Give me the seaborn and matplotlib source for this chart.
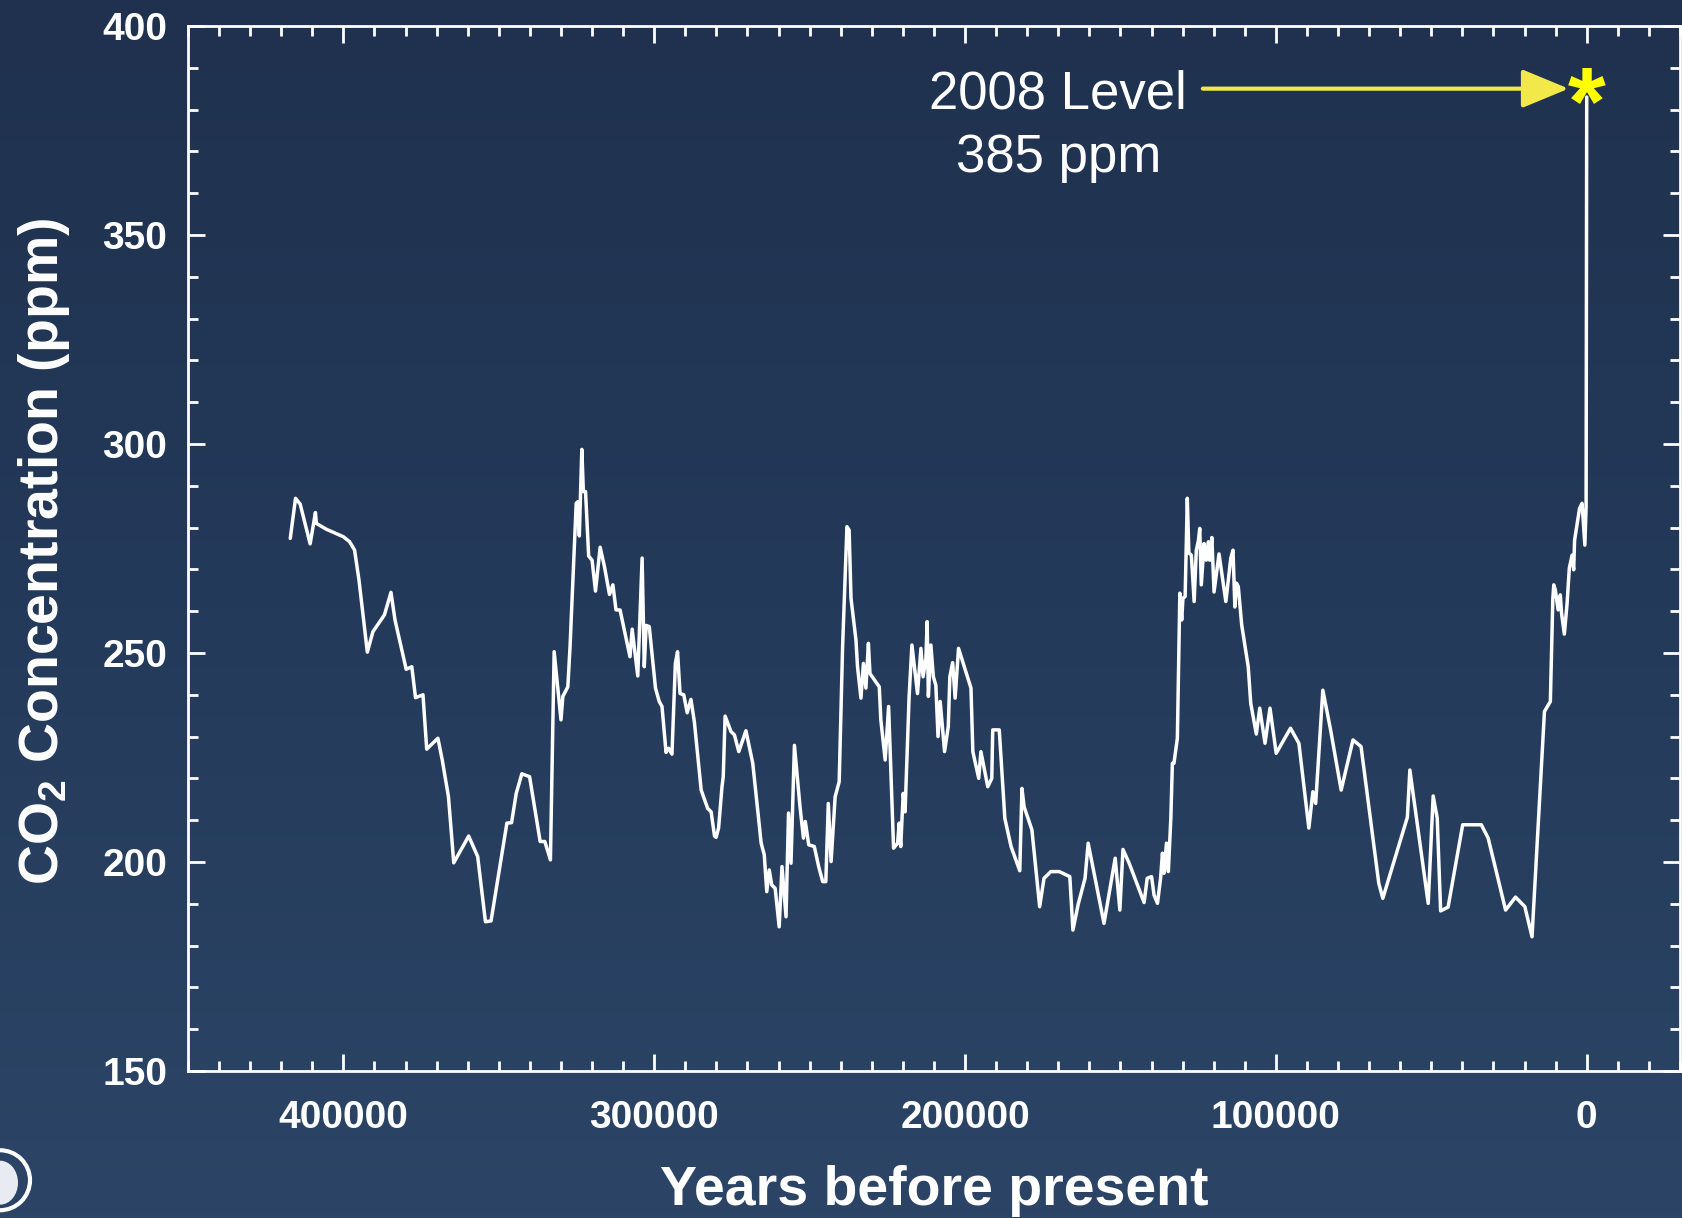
import numpy as np
import matplotlib
matplotlib.use('Agg')
import matplotlib.pyplot as plt
import seaborn as sns
from matplotlib.ticker import MultipleLocator, FuncFormatter
from matplotlib.colors import LinearSegmentedColormap
from matplotlib.patches import Ellipse

# Vostok ice core CO2, years before present
years = [417100, 415400, 413900, 410700, 409000, 408700, 405500, 400000, 398000, 396400,
         395000, 392300, 390500, 386800, 384700, 383400, 379800, 378000, 376800, 374400,
         373200, 369600, 368200, 366200, 364500, 359700, 356800, 354300, 352500, 350000,
         347400, 345900, 344400, 342600, 340100, 336700, 335200, 333400, 332200, 330000,
         329400, 327800, 327100, 325100, 324600, 324100, 323300, 322800, 322100, 321100,
         320000, 318900, 317400, 316000, 314400, 313300, 312300, 311000, 307800, 307100,
         305300, 303900, 303200, 302600, 301600, 299600, 298400, 297500, 296200, 295400,
         294300, 293200, 292500, 291700, 290500, 289400, 288200, 287100, 284900, 282800,
         281700, 280600, 280100, 279300, 278200, 277800, 277200, 275300, 274200, 272800,
         270500, 268300, 265600, 264600, 263800, 263000, 262200, 261100, 259800, 258900,
         257600, 256800, 256000, 254900, 253100, 252000, 251400, 250300, 248500, 247100,
         245800, 244800, 244000, 243100, 241800, 240500, 239400, 238000, 237300, 236700,
         235100, 234600, 233500, 232700, 231900, 231100, 230600, 227600, 227100, 225700,
         224600, 223000, 221700, 221200, 220700, 219900, 219300, 218000, 217100, 215300,
         214200, 213500, 212600, 212200, 211800, 211000, 210200, 209400, 208700, 208000,
         206600, 205400, 204900, 204000, 203200, 202100, 198100, 197500, 195600, 194900,
         192700, 191400, 191100, 189000, 187200, 185200, 182400, 181700, 181000, 178500,
         176000, 174600, 172400, 169700, 166300, 165300, 163600, 161400, 160400, 155300,
         151700, 150200, 149200, 147200, 142400, 141400, 140000, 139200, 138100, 137100,
         136500, 136000, 135200, 134600, 133800, 133300, 132800, 131700, 130900, 130300,
         129900, 129200, 128500, 128000, 127200, 126300, 125600, 124900, 124500, 124000,
         123100, 122400, 121700, 121300, 120600, 119900, 118300, 116100, 114500, 113800,
         113200, 112700, 112100, 111000, 108900, 108100, 106300, 105200, 103500, 101900,
         99900, 95300, 92600, 89400, 88100, 87200, 84900, 82400, 79000, 75200,
         72600, 66900, 65600, 57700, 56900, 51000, 49400, 48100, 47000, 44600,
         39900, 33900, 31700, 26100, 22900, 19900, 17600, 13600, 11700, 10900,
         10600, 10100, 9200, 8500, 8100, 7200, 6300, 5600, 4700, 4200,
         3900, 2300, 1500, 600, 200, 0]

co2 = [277.4, 287.0, 285.6, 276.1, 283.6, 281.0, 279.6, 277.8, 276.6, 274.6,
       267.5, 250.2, 255.1, 259.1, 264.5, 257.9, 246.1, 246.7, 239.3, 240.0,
       227.0, 229.6, 224.4, 215.6, 199.8, 206.2, 201.3, 185.7, 185.9, 197.3,
       209.3, 209.4, 216.4, 221.1, 220.4, 204.9, 204.9, 200.5, 250.3, 234.0,
       239.6, 241.9, 251.3, 285.8, 286.2, 278.0, 298.7, 288.6, 288.6, 273.2,
       272.2, 264.8, 275.3, 270.6, 264.0, 266.3, 260.3, 260.3, 249.1, 255.7,
       244.5, 272.7, 246.7, 256.6, 256.3, 241.6, 238.4, 237.2, 226.2, 227.2,
       225.8, 247.5, 250.3, 240.3, 240.0, 235.7, 238.9, 233.6, 217.2, 212.8,
       212.0, 206.2, 205.9, 208.1, 218.0, 220.4, 234.9, 231.2, 230.4, 226.4,
       231.4, 223.6, 204.5, 201.7, 192.9, 198.1, 194.5, 193.7, 184.5, 198.9,
       186.9, 211.7, 199.7, 227.9, 213.2, 205.7, 209.7, 204.1, 203.7, 198.9,
       195.3, 195.3, 214.0, 200.1, 215.6, 219.2, 251.5, 280.2, 279.4, 263.1,
       253.1, 246.7, 239.2, 247.5, 241.6, 252.3, 245.1, 241.9, 234.0, 224.4,
       237.2, 203.3, 204.5, 209.3, 203.7, 216.4, 212.0, 239.6, 251.9, 240.3,
       251.1, 244.3, 248.7, 257.5, 239.6, 251.9, 244.3, 242.3, 230.0, 238.4,
       226.4, 232.4, 244.3, 247.7, 239.2, 251.1, 241.6, 226.4, 220.0, 226.4,
       218.0, 220.0, 231.6, 231.6, 210.4, 203.7, 197.9, 217.6, 213.2, 207.7,
       189.3, 196.1, 197.7, 197.7, 196.5, 183.7, 189.9, 196.1, 204.5, 185.3,
       200.9, 188.5, 203.0, 199.7, 190.3, 196.1, 196.5, 192.1, 190.1, 196.1,
       202.1, 197.3, 204.5, 197.7, 210.5, 223.6, 223.6, 229.6, 264.3, 257.9,
       263.1, 263.5, 287.0, 273.9, 273.4, 262.3, 274.6, 277.0, 279.8, 266.3,
       276.2, 272.2, 276.6, 272.2, 277.6, 264.6, 273.7, 262.3, 272.7, 274.6,
       261.0, 266.7, 265.9, 256.7, 246.7, 238.0, 230.6, 236.8, 228.4, 236.8,
       226.0, 232.0, 228.4, 208.1, 216.8, 214.0, 241.1, 231.6, 217.2, 229.2,
       227.6, 194.9, 191.3, 210.7, 222.0, 190.1, 215.8, 210.5, 188.3, 189.2,
       208.9, 208.9, 205.7, 188.5, 191.6, 189.3, 182.1, 236.0, 238.4, 263.1,
       266.3, 265.1, 260.3, 263.9, 259.5, 254.5, 262.0, 270.3, 273.4, 269.9,
       277.0, 284.6, 285.8, 275.8, 285.0, 383.0]

level_2008 = 385
level_year = 0

sns.set_style('ticks')
plt.rcParams['font.family'] = ['Liberation Sans', 'DejaVu Sans']
plt.rcParams['font.weight'] = 'bold'
plt.rcParams['mathtext.fontset'] = 'custom'
plt.rcParams['mathtext.rm'] = 'Liberation Sans:bold'
plt.rcParams['mathtext.bf'] = 'Liberation Sans:bold'
plt.rcParams['mathtext.default'] = 'bf'

fig = plt.figure(figsize=(16.83, 12.18), dpi=100)

# dark blue gradient background
bg = fig.add_axes([0, 0, 1, 1], zorder=0)
grad = np.linspace(0, 1, 256).reshape(-1, 1)
cmap = LinearSegmentedColormap.from_list('bg', ['#1f314e', '#243a5a', '#2c4566'])
bg.imshow(grad, aspect='auto', cmap=cmap, extent=[0, 1, 0, 1], origin='upper')
bg.set_xlim(0, 1)
bg.set_ylim(0, 1)
bg.axis('off')
# little round logo in the corner
bg.add_patch(Ellipse((0.0, 0.031), 2 * 30 / 1683, 2 * 30 / 1218, fill=False, ec='white', lw=3))
bg.add_patch(Ellipse((0.0, 0.029), 2 * 18 / 1683, 2 * 22 / 1218, fc='#e8ecf2', ec='none'))

ax = fig.add_axes([0.1117, 0.1207, 0.8865, 0.8580], zorder=1)
ax.set_facecolor('none')

sns.lineplot(x=years, y=co2, sort=False, estimator=None, color='white', lw=2.5, ax=ax)

ax.set_xlim(450000, -30000)
ax.set_ylim(150, 400)

ax.xaxis.set_major_locator(MultipleLocator(100000))
ax.xaxis.set_minor_locator(MultipleLocator(10000))
ax.yaxis.set_major_locator(MultipleLocator(50))
ax.yaxis.set_minor_locator(MultipleLocator(10))
ax.xaxis.set_major_formatter(FuncFormatter(lambda v, p: f'{int(round(v))}'))
ax.yaxis.set_major_formatter(FuncFormatter(lambda v, p: f'{int(round(v))}'))

ax.tick_params(which='both', direction='in', top=True, right=True, colors='white', width=2)
ax.tick_params(which='major', length=12, pad=15, labelsize=28)
ax.tick_params(axis='x', which='major', pad=21)
ax.tick_params(which='minor', length=7)
for sp in ax.spines.values():
    sp.set_color('white')
    sp.set_linewidth(2)

ax.set_xlabel('Years before present', fontsize=40, fontweight='bold', color='white')
ax.xaxis.set_label_coords(0.5, -0.09)
ax.set_ylabel(r'CO$_2$ Concentration (ppm)', fontsize=40, fontweight='bold', color='white')
ax.yaxis.set_label_coords(-0.078, 0.497)

# 2008 annotation
ax.text(170000, 376.0, '2008 Level\n385 ppm', ha='center', va='center', fontsize=38,
        fontweight='normal', color='white', linespacing=1.36)
ax.annotate('', xy=(5800, level_2008), xytext=(123500, level_2008),
            arrowprops=dict(arrowstyle='-|>,head_length=1.45,head_width=0.6', color='#f3e84a',
                            lw=3, mutation_scale=20, shrinkA=0, shrinkB=0))
ax.annotate('*', xy=(level_year, level_2008), xytext=(0, -33), textcoords='offset points',
            ha='center', va='baseline', fontsize=70, fontweight='bold', color='#ffff00')

plt.savefig('out.png', dpi=100)
